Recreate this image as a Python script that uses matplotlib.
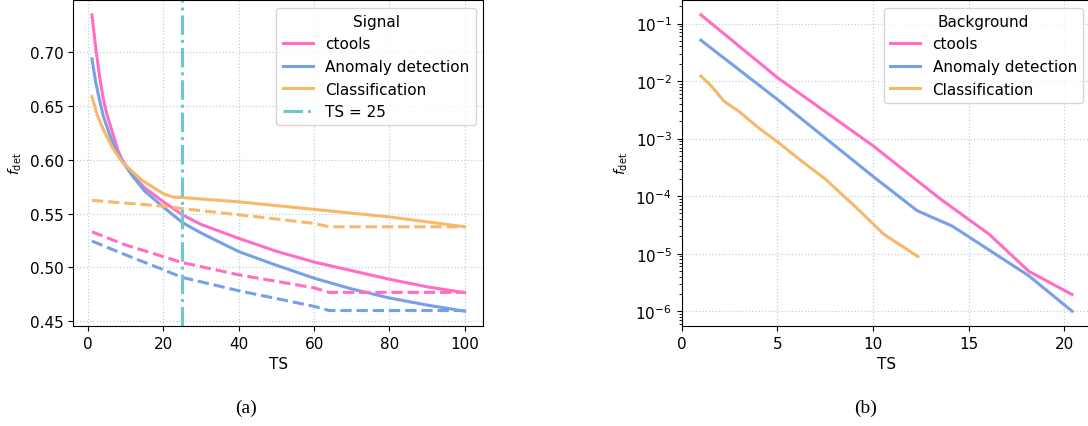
import matplotlib
matplotlib.use("Agg")
import matplotlib.pyplot as plt

# colours
c_ctools = "#ff6ec4"
c_anomaly = "#77a0e6"
c_class = "#f8b869"
c_ts = "#6cc9cf"

# ---- (a) Signal ----
sig_ctools_x = [1, 2, 3, 4, 5, 6.5, 8, 9, 12, 15, 20, 25, 30, 40, 50, 60, 70, 80, 90, 100]
sig_ctools_y = [0.735, 0.704, 0.678, 0.657, 0.642, 0.625, 0.608, 0.600, 0.585, 0.574, 0.561,
                0.549, 0.540, 0.527, 0.515, 0.505, 0.497, 0.489, 0.482, 0.4765]
sig_anom_x = [1, 2, 3, 4, 5.5, 7, 9, 12, 15, 20, 25, 30, 40, 50, 60, 70, 80, 90, 100]
sig_anom_y = [0.694, 0.672, 0.656, 0.641, 0.6255, 0.612, 0.599, 0.584, 0.571, 0.556, 0.5418,
              0.532, 0.5147, 0.502, 0.490, 0.480, 0.4716, 0.465, 0.4593]
sig_class_x = [1, 2.4, 4.2, 6.5, 9, 14.3, 20, 22.5, 25, 40, 60, 80, 100]
sig_class_y = [0.659, 0.6415, 0.627, 0.611, 0.598, 0.581, 0.5685, 0.5655, 0.565, 0.561,
               0.554, 0.547, 0.5378]

# dashed (no legend entry)
dash_x = [1, 10, 20, 25, 40, 60, 64, 100]
dash_ctools_y = [0.5331, 0.5208, 0.510, 0.5045, 0.4931, 0.481, 0.4768, 0.4768]
dash_anom_y = [0.5245, 0.5116, 0.4978, 0.4907, 0.4783, 0.4638, 0.4599, 0.4599]
dash_class_y = [0.5624, 0.5598, 0.557, 0.5547, 0.549, 0.541, 0.5378, 0.5378]

ts_cut = 25

# ---- (b) Background ----
bkg_ctools_x = [1, 5, 10, 13.5, 16.05, 18.15, 20.4]
bkg_ctools_y = [0.142, 0.0115, 7.5e-4, 9.0e-5, 2.2e-5, 4.9e-6, 1.95e-6]
bkg_anom_x = [1, 5, 10, 12.3, 14.15, 18.15, 20.4]
bkg_anom_y = [0.0514, 4.8e-3, 2.2e-4, 5.6e-5, 3.0e-5, 4.1e-6, 1.0e-6]
bkg_class_x = [1, 1.55, 2.2, 3.03, 4.0, 4.95, 6.18, 7.49, 9.0, 10.55, 12.34]
bkg_class_y = [0.01222, 8.18e-3, 4.5e-3, 2.9e-3, 1.55e-3, 9.1e-4, 4.27e-4, 2.0e-4,
               6.9e-5, 2.19e-5, 8.9e-6]

plt.rcParams["font.size"] = 11

fig = plt.figure(figsize=(10.88, 4.27), dpi=100)
ax1 = fig.add_axes([0.0674, 0.2342, 0.3768, 0.7635])
ax2 = fig.add_axes([0.6266, 0.2342, 0.3758, 0.7635])

lw = 2.2
ax1.plot(sig_ctools_x, sig_ctools_y, color=c_ctools, lw=lw, label="ctools")
ax1.plot(sig_anom_x, sig_anom_y, color=c_anomaly, lw=lw, label="Anomaly detection")
ax1.plot(sig_class_x, sig_class_y, color=c_class, lw=lw, label="Classification")
ax1.plot(dash_x, dash_ctools_y, color=c_ctools, lw=lw, ls="--")
ax1.plot(dash_x, dash_anom_y, color=c_anomaly, lw=lw, ls="--")
ax1.plot(dash_x, dash_class_y, color=c_class, lw=lw, ls="--")
ax1.axvline(ts_cut, color=c_ts, lw=lw, ls="-.", label=f"TS = {ts_cut}")
ax1.set_xlabel("TS")
ax1.set_ylabel(r"$f_{\rm det}$", fontsize=10)
ax1.grid(True, color="#bcd3df", ls=":", lw=0.9)
ax1.legend(title="Signal", loc="upper right")

ax2.plot(bkg_ctools_x, bkg_ctools_y, color=c_ctools, lw=lw, label="ctools")
ax2.plot(bkg_anom_x, bkg_anom_y, color=c_anomaly, lw=lw, label="Anomaly detection")
ax2.plot(bkg_class_x, bkg_class_y, color=c_class, lw=lw, label="Classification")
ax2.set_yscale("log")
ax2.set_xticks([0, 5, 10, 15, 20])
ax2.set_xlabel("TS")
ax2.set_ylabel(r"$f_{\rm det}$", fontsize=10)
ax2.grid(True, which="major", color="#bcd3df", ls=":", lw=0.9)
ax2.legend(title="Background", loc="upper right")

fig.text(246 / 1088, 1 - 408 / 427, "(a)", family="Liberation Serif", fontsize=14,
         ha="center", va="center")
fig.text(866 / 1088, 1 - 408 / 427, "(b)", family="Liberation Serif", fontsize=14,
         ha="center", va="center")

fig.savefig("out.png", dpi=100)
